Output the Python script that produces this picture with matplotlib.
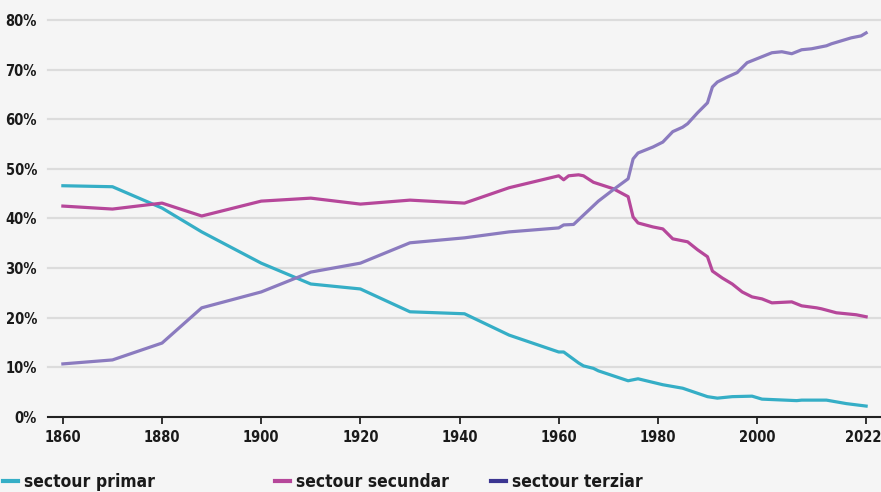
import matplotlib.pyplot as plt
import matplotlib.transforms as mtransforms
from matplotlib.lines import Line2D

# =====================================================================
# DATA (share of employment in %)
# =====================================================================
years_primar = [1860, 1870, 1880, 1888, 1900, 1910, 1920, 1930, 1941, 1950,
                1960, 1961, 1964, 1965, 1967, 1968, 1974, 1976, 1981, 1985,
                1990, 1992, 1995, 1999, 2001, 2008, 2009, 2014, 2018, 2022]
primar = [46.6, 46.4, 42.1, 37.3, 31.0, 26.8, 25.8, 21.2, 20.8, 16.5,
          13.1, 13.1, 10.9, 10.3, 9.8, 9.3, 7.3, 7.7, 6.5, 5.8,
          4.1, 3.8, 4.1, 4.2, 3.6, 3.3, 3.4, 3.4, 2.7, 2.2]

years_secundar = [1860, 1870, 1880, 1888, 1900, 1910, 1920, 1930, 1941, 1950,
                  1960, 1961, 1962, 1964, 1965, 1967, 1971, 1974, 1975, 1976,
                  1979, 1981, 1983, 1986, 1988, 1990, 1991, 1993, 1995, 1997,
                  1999, 2001, 2003, 2007, 2009, 2012, 2013, 2016, 2020, 2022]
secundar = [42.5, 41.9, 43.1, 40.5, 43.5, 44.1, 42.9, 43.7, 43.1, 46.2,
            48.6, 47.8, 48.6, 48.8, 48.6, 47.3, 46.0, 44.4, 40.3, 39.1,
            38.3, 37.9, 35.9, 35.3, 33.7, 32.3, 29.4, 28.0, 26.8, 25.2,
            24.2, 23.8, 23.0, 23.2, 22.4, 22.0, 21.8, 21.0, 20.6, 20.2]

years_terziar = [1860, 1870, 1880, 1888, 1900, 1910, 1920, 1930, 1941, 1950,
                 1960, 1961, 1963, 1968, 1971, 1974, 1975, 1976, 1979, 1981,
                 1983, 1985, 1986, 1988, 1990, 1991, 1992, 1994, 1996, 1998,
                 2000, 2003, 2005, 2007, 2009, 2011, 2014, 2015, 2017, 2019,
                 2020, 2021, 2022]
terziar = [10.7, 11.5, 14.9, 22.0, 25.2, 29.2, 31.0, 35.1, 36.1, 37.3,
           38.1, 38.7, 38.8, 43.5, 45.8, 48.0, 52.0, 53.2, 54.4, 55.4,
           57.5, 58.4, 59.1, 61.3, 63.3, 66.5, 67.5, 68.5, 69.4, 71.4,
           72.2, 73.4, 73.6, 73.2, 74.0, 74.2, 74.8, 75.2, 75.8, 76.4,
           76.6, 76.8, 77.4]

x_ticks = [1860, 1880, 1900, 1920, 1940, 1960, 1980, 2000, 2022]
y_ticks = [0, 10, 20, 30, 40, 50, 60, 70, 80]
labels = ["sectour primar", "sectour secundar", "sectour terziar"]
# =====================================================================

BG = "#f5f5f5"
C_PRIMAR = "#35aec6"
C_SECUNDAR = "#b6479a"
C_TERZIAR = "#8b7bbf"
C_TERZIAR_LEGEND = "#3b3591"

plt.rcParams['font.family'] = ['DejaVu Sans']
plt.rcParams['font.stretch'] = 'condensed'
plt.rcParams['font.weight'] = 'bold'

fig = plt.figure(figsize=(8.81, 4.92), dpi=100, facecolor=BG)
ax = fig.add_axes([48 / 881, 75 / 492, 833 / 881, 400 / 492], facecolor=BG)

# grid lines behind the data
for v in y_ticks[1:]:
    ax.axhline(v, color="#dcdcdc", lw=1.6, zorder=1, clip_on=False)

ax.plot(years_primar, primar, color=C_PRIMAR, lw=2.3, zorder=3)
ax.plot(years_secundar, secundar, color=C_SECUNDAR, lw=2.3, zorder=3)
ax.plot(years_terziar, terziar, color=C_TERZIAR, lw=2.3, zorder=3)

ax.set_xlim(1857, 2025)
ax.set_ylim(0, 80.6)

ax.set_xticks(x_ticks)
ax.set_xticklabels([str(t) for t in x_ticks])
ax.set_yticks(y_ticks)
ax.set_yticklabels([f"{t}%" for t in y_ticks])

ax.tick_params(axis='x', length=5, width=1.3, color="#222222", pad=4,
               labelsize=10.5, labelcolor="#1a1a1a")
ax.tick_params(axis='y', length=0, pad=8, labelsize=10.5, labelcolor="#1a1a1a")

# nudge the last year label a little so it stays inside the figure
last = ax.get_xticklabels()[-1]
last.set_transform(last.get_transform() +
                   mtransforms.ScaledTranslation(-3 / 100, 0, fig.dpi_scale_trans))

for s in ["top", "right", "left"]:
    ax.spines[s].set_visible(False)
ax.spines["bottom"].set_color("#222222")
ax.spines["bottom"].set_linewidth(1.5)
ax.spines["bottom"].set_zorder(4)

# legend: three separate entries placed along the bottom edge
legend_colors = [C_PRIMAR, C_SECUNDAR, C_TERZIAR_LEGEND]
legend_x = [-4 / 881, 268 / 881, 484 / 881]
for lab, col, lx in zip(labels, legend_colors, legend_x):
    h = Line2D([0], [0], color=col, lw=3)
    leg = fig.legend([h], [lab], loc="lower left", bbox_to_anchor=(lx, -0.012),
                     frameon=False, handlelength=0.85, handletextpad=0.35,
                     borderaxespad=0.0, fontsize=12.5)
    for t in leg.get_texts():
        t.set_color("#1a1a1a")

fig.savefig("out.png", dpi=100, facecolor=BG)
